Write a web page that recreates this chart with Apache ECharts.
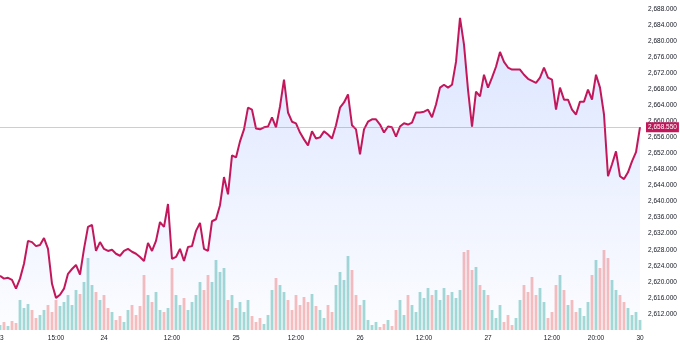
<!DOCTYPE html>
<html>
<head>
<meta charset="utf-8">
<script src="https://cdn.jsdelivr.net/npm/echarts@6/dist/echarts.min.js"></script>
<style>
  html, body { margin: 0; padding: 0; background: #fff; }
  #chart { width: 680px; height: 346px; }
</style>
</head>
<body>
<div id="chart"></div>
<script>
// price, one sample every 4px of the original
const prices = [
  2621.5, 2620.8, 2621.0, 2620.5, 2618.3, 2620.8, 2624.5, 2630.2, 2629.9, 2628.9,
  2629.2, 2630.9, 2628.2, 2619.5, 2616.0, 2616.8, 2618.3, 2622.0, 2623.2, 2624.2,
  2621.8, 2628.2, 2633.7, 2634.2, 2627.7, 2629.9, 2628.2, 2627.7, 2628.0, 2627.0,
  2626.5, 2627.7, 2628.2, 2627.5, 2627.0, 2626.2, 2625.2, 2629.7, 2627.7, 2630.2,
  2634.9, 2633.7, 2639.4, 2625.7, 2626.2, 2628.2, 2625.2, 2628.7, 2628.9, 2632.7,
  2634.7, 2628.2, 2627.7, 2635.1, 2635.6, 2639.1, 2646.1, 2641.8, 2651.5, 2651.0,
  2655.0, 2658.0, 2663.4, 2662.9, 2658.2, 2658.0, 2658.5, 2658.7, 2661.0, 2658.5,
  2663.7, 2670.4, 2662.2, 2659.9, 2659.5, 2657.2, 2655.5, 2654.0, 2657.5, 2655.7,
  2656.0, 2657.5, 2656.7, 2655.7, 2659.0, 2663.4, 2664.7, 2666.7, 2659.0, 2658.0,
  2651.8, 2658.0, 2659.9, 2660.5, 2660.5, 2659.2, 2657.2, 2658.7, 2658.5, 2656.2,
  2658.7, 2659.5, 2659.2, 2659.7, 2662.2, 2662.2, 2662.4, 2662.9, 2661.0, 2664.2,
  2668.4, 2669.1, 2668.4, 2669.1, 2674.8, 2685.8, 2679.1, 2667.9, 2658.7, 2667.4,
  2666.2, 2671.6, 2668.4, 2670.9, 2673.6, 2677.3, 2674.8, 2673.4, 2672.9, 2672.9,
  2672.9, 2671.6, 2670.6, 2670.1, 2669.6, 2670.9, 2673.4, 2670.9, 2670.4, 2662.9,
  2668.4, 2665.4, 2665.4, 2662.9, 2661.7, 2664.9, 2664.9, 2667.9, 2665.4, 2671.6,
  2668.4, 2661.7, 2646.3, 2649.3, 2652.5, 2646.3, 2645.6, 2647.3, 2650.0, 2652.3,
  2658.55
];

const volumes = [
  225, 360, 180, 405, 315, 1350, 990, 1170, 900, 540,
  675, 900, 1125, 810, 1350, 1080, 1260, 1575, 1125, 1800,
  1620, 2160, 3240, 2025, 1710, 1350, 1575, 990, 810, 450,
  630, 360, 900, 1125, 675, 1080, 2475, 1575, 1260, 1710,
  900, 810, 990, 2790, 1575, 1125, 1440, 900, 1260, 1575,
  2160, 1800, 2475, 2160, 3150, 2610, 2790, 1350, 1575, 990,
  1260, 810, 1350, 630, 360, 540, 270, 675, 1800, 2340,
  2025, 1710, 1350, 900, 1575, 1125, 1485, 1260, 1620, 1080,
  900, 540, 1125, 810, 2025, 2610, 2250, 3330, 2700, 1575,
  1125, 1350, 450, 225, 360, 135, 270, 450, 180, 900,
  1350, 675, 1575, 1125, 810, 1710, 1440, 1890, 1575, 1800,
  1350, 1890, 1575, 1710, 1440, 1800, 3510, 3600, 2700, 2835,
  2025, 1800, 1575, 900, 540, 1125, 360, 675, 225, 540,
  1350, 2025, 1710, 2385, 1575, 1890, 1260, 540, 810, 2025,
  2475, 1800, 1125, 1350, 810, 990, 630, 1260, 2475, 3150,
  2790, 3600, 3240, 2250, 1800, 1575, 1260, 990, 675, 810,
  449
];

// x tick labels: sample index -> text
const labelIdx = [0, 14, 26, 43, 59, 74, 90, 106, 122, 138, 149, 160];
const labelText = ['23', '15:00', '24', '12:00', '25', '12:00', '26', '12:00', '27', '12:00', '20:00', '30'];

const lastPrice = 2658.55;
const lastVolume = 449;

const categories = prices.map((_, i) => String(i));

const upColor = 'rgba(38, 166, 154, 0.42)';
const downColor = 'rgba(239, 83, 80, 0.38)';

const volumeBars = volumes.map((v, i) => ({
  value: v,
  itemStyle: { color: i > 0 && prices[i] < prices[i - 1] ? downColor : upColor }
}));

const font = "'Liberation Sans', Arial, sans-serif";

const chart = echarts.init(document.getElementById('chart'));
chart.setOption({
  animation: false,
  backgroundColor: '#fff',
  grid: { left: 0, right: 40, top: 0, bottom: 16, outerBoundsMode: 'none' },
  xAxis: {
    type: 'category',
    data: categories,
    boundaryGap: false,
    axisLine: { show: false },
    axisTick: { show: false },
    splitLine: { show: false },
    axisLabel: {
      margin: 5,
      fontSize: 6.5,
      color: '#131722',
      fontFamily: font,
      alignMinLabel: 'center',
      alignMaxLabel: 'center',
      interval: (idx) => labelIdx.includes(idx),
      formatter: (val, idx) => labelText[labelIdx.indexOf(idx)] || ''
    }
  },
  yAxis: [
    {
      type: 'value',
      position: 'right',
      min: 2608,
      max: 2690.23,
      interval: 4,
      axisLine: { show: false },
      axisTick: { show: false },
      splitLine: { show: false },
      axisLabel: {
        margin: 8,
        fontSize: 6.5,
        color: '#131722',
        fontFamily: font,
        showMinLabel: false,
        showMaxLabel: false,
        formatter: (v) => v.toLocaleString('en-US', { minimumFractionDigits: 3, maximumFractionDigits: 3 })
      }
    },
    {
      type: 'value',
      min: 0,
      max: 14850,
      show: false
    }
  ],
  series: [
    {
      name: 'volume',
      type: 'bar',
      yAxisIndex: 1,
      data: volumeBars,
      barCategoryGap: '30%',
      z: 1,
      markLine: {
        silent: true,
        symbol: ['none', 'none'],
        lineStyle: { opacity: 0 },
        label: {
          position: 'end',
          distance: 6,
          formatter: String(lastVolume),
          color: '#fff',
          backgroundColor: '#ef5350',
          padding: [2, 3, 1, 3],
          fontSize: 6.5,
          fontFamily: font
        },
        data: [{ yAxis: lastVolume }]
      }
    },
    {
      name: 'price',
      type: 'line',
      data: prices,
      symbol: 'none',
      z: 3,
      lineStyle: { color: '#c2185b', width: 2 },
      areaStyle: {
        color: new echarts.graphic.LinearGradient(0, 0, 0, 1, [
          { offset: 0, color: 'rgba(41, 98, 255, 0.24)' },
          { offset: 1, color: 'rgba(41, 98, 255, 0.02)' }
        ])
      },
      markLine: {
        silent: true,
        symbol: ['none', 'none'],
        lineStyle: { color: 'rgba(150, 120, 150, 0.4)', type: 'solid', width: 1 },
        label: {
          position: 'end',
          distance: 6,
          formatter: lastPrice.toLocaleString('en-US', { minimumFractionDigits: 3 }),
          color: '#fff',
          backgroundColor: '#c2185b',
          padding: [2, 2, 1, 2],
          fontSize: 6.5,
          fontFamily: font
        },
        data: [{ yAxis: lastPrice }]
      }
    }
  ]
});
</script>
</body>
</html>
